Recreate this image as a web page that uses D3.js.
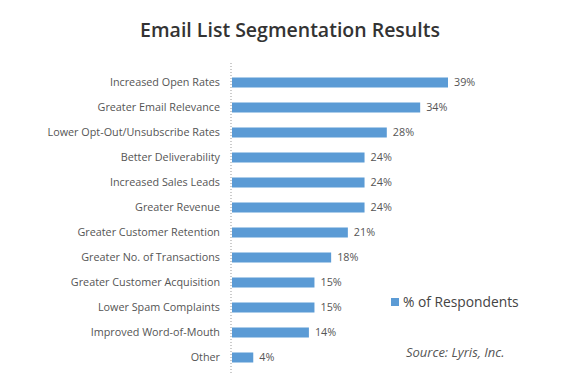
<!DOCTYPE html>
<html>
  <head>
    <meta charset="utf-8">
    <title>Email List Segmentation Results</title>
    <script src="https://cdn.jsdelivr.net/npm/d3@7"></script>
  </head>

  <style>
    body {
      margin: 0;
      background: #ffffff;
    }
    text {
      font-family: "Open Sans", Arial, sans-serif;
    }
  </style>

  <body>
    <script>

      var categories = ["Increased Open Rates", "Greater Email Relevance", "Lower Opt-Out/Unsubscribe Rates",
        "Better Deliverability", "Increased Sales Leads", "Greater Revenue", "Greater Customer Retention",
        "Greater No. of Transactions", "Greater Customer Acquisition", "Lower Spam Complaints",
        "Improved Word-of-Mouth", "Other"];
      var values = [39, 34, 28, 24, 24, 24, 21, 18, 15, 15, 14, 4];
      var seriesName = "% of Respondents";
      var titleText = "Email List Segmentation Results";
      var sourceText = "Source: Lyris, Inc.";

      var width = 579,
        height = 389;

      var svg = d3.select("body")
        .append("svg")
        .attr("width", width)
        .attr("height", height);

      var x = d3.scaleLinear()
        .domain([0, 39])
        .range([231, 448]);

      var y = d3.scaleBand()
        .domain(categories)
        .range([70, 370])
        .paddingInner(0.6)
        .paddingOuter(0.3);

      // title
      svg.append("text")
        .attr("x", 290)
        .attr("y", 37)
        .attr("text-anchor", "middle")
        .attr("font-size", "19.5px")
        .attr("font-weight", 600)
        .attr("fill", "#333")
        .text(titleText);

      // dotted axis line
      svg.append("line")
        .attr("x1", x(0)).attr("x2", x(0))
        .attr("y1", 63).attr("y2", 373)
        .attr("stroke", "#999")
        .attr("stroke-width", 1)
        .attr("stroke-dasharray", "1,2");

      svg.selectAll(".bar")
        .data(values)
        .enter()
        .append("rect")
        .attr("class", "bar")
        .attr("x", x(0) + 1)
        .attr("y", (d, i) => y(categories[i]))
        .attr("width", d => x(d) - x(0) - 1)
        .attr("height", y.bandwidth())
        .attr("fill", "#5B9BD5");

      svg.selectAll(".cat")
        .data(categories)
        .enter()
        .append("text")
        .attr("class", "cat")
        .attr("x", 220)
        .attr("y", d => y(d) + y.bandwidth() / 2)
        .attr("dy", "0.35em")
        .attr("text-anchor", "end")
        .attr("font-size", "10.8px")
        .attr("fill", "#555")
        .text(d => d);

      svg.selectAll(".val")
        .data(values)
        .enter()
        .append("text")
        .attr("class", "val")
        .attr("x", d => x(d) + 6)
        .attr("y", (d, i) => y(categories[i]) + y.bandwidth() / 2)
        .attr("dy", "0.35em")
        .attr("font-size", "10.8px")
        .attr("fill", "#555")
        .text(d => d + "%");

      // legend
      svg.append("rect")
        .attr("x", 391)
        .attr("y", 298)
        .attr("width", 8)
        .attr("height", 8)
        .attr("fill", "#5B9BD5");

      svg.append("text")
        .attr("x", 403)
        .attr("y", 302)
        .attr("dy", "0.35em")
        .attr("font-size", "13.8px")
        .attr("fill", "#444")
        .text(seriesName);

      svg.append("text")
        .attr("x", 406)
        .attr("y", 357)
        .attr("font-size", "13px")
        .attr("font-style", "italic")
        .attr("fill", "#555")
        .text(sourceText);

    </script>
  </body>
</html>
